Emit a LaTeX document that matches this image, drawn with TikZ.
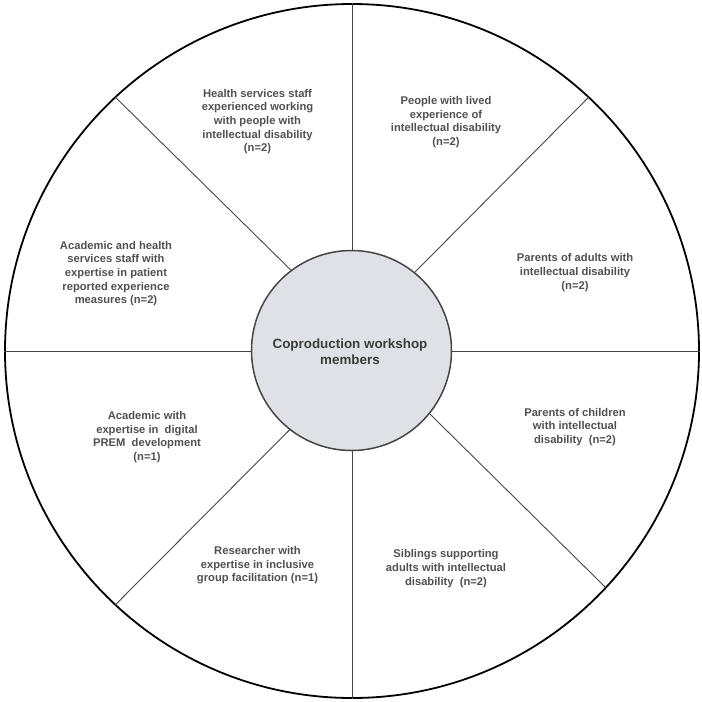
\documentclass[tikz,border=0pt]{standalone}
\usepackage{fontspec}
\setmainfont{Liberation Sans}
\definecolor{txtgray}{HTML}{505050}
\definecolor{ctrgray}{HTML}{3C3C3C}
\definecolor{fillgray}{HTML}{DFE1E6}
\definecolor{linegray}{HTML}{454545}
\begin{document}
\begin{tikzpicture}[x=1pt,y=-1pt,
  lbl/.style={align=center, font=\fontsize{11.2}{13.6}\selectfont\bfseries, text=txtgray, inner sep=0pt},
  divider/.style={draw=linegray, line width=0.9pt}]
\useasboundingbox (0,0) rectangle (702,702);
\node[circle, draw=black, line width=1.8pt, minimum size=694pt, inner sep=0pt] (outer) at (352,351) {};
\draw[divider] (outer.north) -- (outer.south);
\draw[divider] (outer.west) -- (outer.east);
\node[circle, draw=linegray, line width=1.5pt, fill=fillgray, minimum size=200pt, inner sep=0pt] (inner) at (351.5,350.5) {};
\draw[divider] (inner.127) -- (outer.133.4);
\draw[divider] (inner.51.5) -- (outer.47.6);
\draw[divider] (inner.-39.2) -- (outer.-43.7);
\draw[divider] (inner.-128.6) -- (outer.-133);
\node[align=center, font=\fontsize{13.4}{16}\selectfont\bfseries, text=ctrgray, inner sep=0pt] (ctr) at (350,352) {Coproduction workshop\\members};
\node[lbl] (hs) at (257.5,121.5) {Health services staff\\experienced working\\with people with\\intellectual disability\\(n=2)};
\node[lbl] (pl) at (446,122) {People with lived\\experience of\\intellectual disability\\(n=2)};
\node[lbl] (pa) at (575,272.5) {Parents of adults with\\intellectual disability\\(n=2)};
\node[lbl] (ah) at (116,273.5) {Academic and health\\services staff with\\expertise in patient\\reported experience\\measures (n=2)};
\node[lbl] (ad) at (147,437) {Academic with\\expertise in~ digital\\PREM~ development\\(n=1)};
\node[lbl] (pc) at (575,427) {Parents of children\\with intellectual\\disability~ (n=2)};
\node[lbl] (rs) at (257.5,565.5) {Researcher with\\expertise in inclusive\\group facilitation (n=1)};
\node[lbl] (sb) at (446,568.5) {Siblings supporting\\adults with intellectual\\disability~ (n=2)};
\end{tikzpicture}
\end{document}
